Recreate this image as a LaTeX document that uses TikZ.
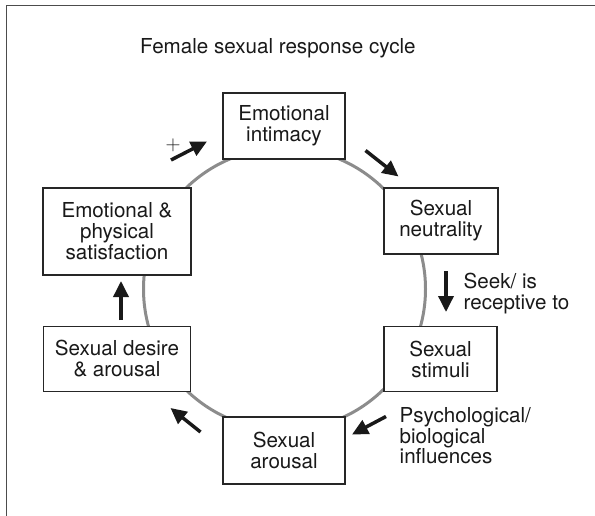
\documentclass[tikz,border=0pt]{standalone}
\usepackage{fontspec}
\setmainfont{TeX Gyre Heros}
\usetikzlibrary{arrows.meta}

\begin{document}
\begin{tikzpicture}[x=1pt, y=-1pt,
    every node/.style={font=\fontsize{20.6}{21}\selectfont, text=black!90},
    stage/.style={draw=black!85, line width=1.3pt, fill=white, align=center, inner sep=0pt},
    note/.style={anchor=west, align=left, inner sep=0pt},
    push/.style={line width=3.5pt, black!90, -{Triangle[length=16pt,width=15pt]}}]
  % Page and frame
  \useasboundingbox (0,0) rectangle (595,516);
  \draw[line width=1.4pt, black!70] (6.5,516) |- (595,5.5);
  \node[anchor=base west, inner sep=0pt] (title) at (140,54) {Female sexual response cycle};

  % Cycle
  \draw[line width=3pt, black!45] (284.5,289) circle (141pt);

  % Stages
  \node[stage, minimum width=122pt, minimum height=66pt] (intimacy) at (284,126) {Emotional\\intimacy};
  \node[stage, minimum width=114pt, minimum height=66pt] (neutral) at (441,221) {Sexual\\neutrality};
  \node[stage, minimum width=113pt, minimum height=65pt] (stimuli) at (440.5,359) {Sexual\\stimuli};
  \node[stage, minimum width=122pt, minimum height=67pt] (arousal) at (284,450.5) {Sexual\\arousal};
  \node[stage, minimum width=147pt, minimum height=65pt] (desire) at (117,359) {Sexual desire\\\& arousal};
  \node[stage, minimum width=148pt, minimum height=87pt] (satisf) at (117,231.5) {Emotional \&\\physical\\satisfaction};

  % Arrow ends
  \coordinate (plusS) at (171,160);   \coordinate (plusE) at (207,141.5);
  \coordinate (neutS) at (365.5,150.5); \coordinate (neutE) at (398.5,176.5);
  \coordinate (seekS) at (446,271);   \coordinate (seekE) at (446,312);
  \coordinate (psyS) at (386,416.5);  \coordinate (psyE) at (352,434.5);
  \coordinate (desS) at (200.5,432);  \coordinate (desE) at (170.5,408);
  \coordinate (satS) at (121,320);    \coordinate (satE) at (121,281);

  % Arrows
  \draw[push] (plusS) -- (plusE);
  \draw[push] (neutS) -- (neutE);
  \draw[push] (seekS) -- (seekE);
  \draw[push] (psyS) -- (psyE);
  \draw[push] (desS) -- (desE);
  \draw[push] (satS) -- (satE);

  % Labels
  \node[font=\fontsize{21}{21}\selectfont, inner sep=0pt] (plus) at (173,145) {$+$};
  \node[note] (seek) at (463.5,294) {Seek/ is\\receptive to};
  \node[note, font=\fontsize{20.6}{19.5}\selectfont] (psy) at (399.5,436) {Psychological/\\biological\\influences};
\end{tikzpicture}
\end{document}
